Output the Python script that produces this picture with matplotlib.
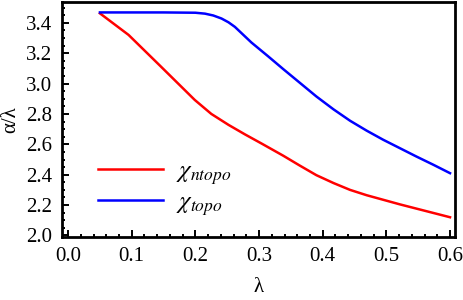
import numpy as np
import matplotlib.pyplot as plt
from matplotlib.ticker import MultipleLocator

plt.rcParams['font.family'] = 'Liberation Serif'
plt.rcParams['mathtext.fontset'] = 'stix'

# values
lam_ntopo = [0.05, 0.095, 0.145, 0.199, 0.225, 0.252, 0.278, 0.304, 0.338, 0.364,
             0.390, 0.417, 0.443, 0.469, 0.495, 0.521, 0.547, 0.574, 0.600]
ntopo = [3.462, 3.32, 3.115, 2.892, 2.80, 2.728, 2.665, 2.605, 2.525, 2.46,
         2.397, 2.345, 2.30, 2.265, 2.235, 2.205, 2.177, 2.148, 2.12]

lam_topo = [0.05, 0.10, 0.15, 0.20, 0.215, 0.228, 0.241, 0.252, 0.262, 0.288,
            0.314, 0.338, 0.364, 0.390, 0.417, 0.443, 0.469, 0.495, 0.521, 0.547,
            0.574, 0.600]
topo = [3.468, 3.468, 3.468, 3.466, 3.46, 3.448, 3.428, 3.403, 3.373, 3.27,
        3.18, 3.095, 3.005, 2.915, 2.83, 2.755, 2.69, 2.63, 2.575, 2.52,
        2.465, 2.41]

fig = plt.figure(figsize=(4.63, 3.0), dpi=100)
ax = fig.add_axes([0.134, 0.21, 0.849, 0.783])

ax.plot(lam_ntopo, ntopo, color='#ff0000', lw=1.8, label=r'$\chi_{ntopo}$')
ax.plot(lam_topo, topo, color='#0000ff', lw=1.8, label=r'$\chi_{topo}$')

ax.set_xlim(-0.0095, 0.608)
ax.set_ylim(1.99, 3.536)
ax.xaxis.set_major_locator(MultipleLocator(0.1))
ax.xaxis.set_minor_locator(MultipleLocator(0.02))
ax.yaxis.set_major_locator(MultipleLocator(0.2))
ax.yaxis.set_minor_locator(MultipleLocator(0.05))
ax.xaxis.set_major_formatter(plt.FuncFormatter(lambda v, p: f'{v:.1f}'))
ax.yaxis.set_major_formatter(plt.FuncFormatter(lambda v, p: f'{v:.1f}'))

ax.tick_params(which='both', direction='in', top=False, right=False, labelsize=15, width=1.4)
ax.tick_params(which='major', length=5, pad=7)
ax.tick_params(which='minor', length=2.5)
for s in ax.spines.values():
    s.set_linewidth(2.0)

ax.set_xlabel('λ', fontsize=15, labelpad=9)
ax.set_ylabel('α/λ', fontsize=15, labelpad=4)

ax.legend(loc='lower left', bbox_to_anchor=(0.035, -0.015), frameon=False, fontsize=18,
          handlelength=2.6, handletextpad=0.5, labelspacing=0.15)

fig.savefig('out.png', dpi=100)
